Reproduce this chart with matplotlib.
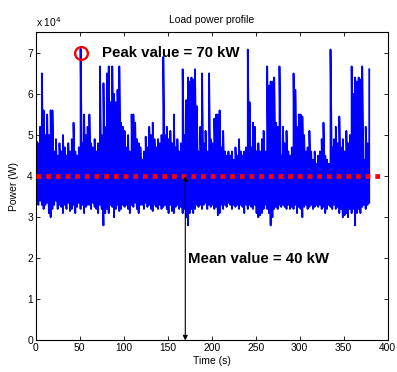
import numpy as np
import matplotlib
matplotlib.use("Agg")
import matplotlib.pyplot as plt
from matplotlib.ticker import FuncFormatter

# ---- data (power in units of 1e4 W) ----
time_s = list(range(1, 380, 2))  # 1, 3, ..., 379

power_high = [
    4.85, 4.8, 5.2, 6.5, 5.6, 5.0, 5.5, 5.0, 5.6, 5.6,
    4.6, 4.9, 4.5, 4.8, 4.6, 5.0, 4.7, 4.5, 4.8, 4.6,
    4.9, 5.3, 4.6, 4.5, 4.7, 7.1, 4.8, 5.5, 5.0, 5.2,
    5.5, 4.8, 4.7, 4.9, 4.6, 4.8, 6.67, 5.0, 6.26, 5.2,
    6.5, 6.67, 5.8, 6.67, 6.0, 5.8, 6.1, 6.67, 5.3, 5.2,
    5.1, 4.7, 5.0, 4.6, 5.5, 5.5, 5.3, 4.9, 4.8, 4.7,
    4.4, 4.6, 4.96, 4.7, 5.2, 5.0, 5.3, 4.9, 4.7, 4.9,
    4.8, 5.0, 6.9, 5.0, 5.2, 4.9, 5.1, 4.8, 5.5, 4.7,
    4.9, 4.6, 4.8, 6.6, 5.0, 5.85, 6.4, 6.3, 6.4, 6.35,
    6.6, 5.7, 4.6, 5.2, 6.5, 4.8, 5.1, 4.6, 6.5, 4.9,
    4.8, 5.4, 5.5, 5.5, 5.6, 4.7, 5.1, 4.6, 4.5, 4.6,
    4.5, 4.6, 4.4, 4.7, 4.5, 4.9, 4.6, 4.5, 4.6, 4.7,
    7.08, 5.8, 4.7, 5.3, 5.2, 4.6, 4.8, 4.6, 4.9, 5.1,
    4.6, 6.67, 6.2, 6.3, 6.3, 6.4, 5.3, 5.2, 6.67, 4.5,
    5.2, 4.8, 5.1, 4.6, 4.5, 4.7, 6.5, 6.1, 5.2, 5.5,
    5.5, 5.45, 5.0, 4.6, 4.7, 5.1, 4.6, 4.4, 4.6, 4.3,
    4.5, 4.6, 4.9, 5.3, 4.5, 4.4, 4.3, 7.08, 4.7, 4.9,
    5.2, 4.8, 5.45, 4.7, 4.9, 4.6, 5.1, 4.8, 5.0, 6.67,
    6.0, 6.4, 6.3, 6.4, 6.35, 6.67, 4.4, 5.2, 4.8, 6.6,
]

power_low = [
    3.35, 3.3, 3.4, 3.3, 3.2, 3.3, 3.35, 3.1, 3.0, 3.2,
    3.3, 3.4, 3.2, 3.3, 3.25, 3.1, 3.3, 3.2, 3.35, 3.15,
    3.2, 3.3, 3.1, 3.25, 3.35, 3.2, 3.3, 3.1, 3.25, 3.3,
    3.3, 3.2, 3.35, 3.25, 3.2, 3.1, 3.3, 3.2, 2.8, 3.1,
    3.2, 3.1, 3.3, 3.25, 3.0, 3.2, 3.3, 3.15, 3.2, 3.3,
    3.25, 3.3, 3.2, 3.1, 3.3, 3.25, 3.35, 3.2, 3.1, 3.3,
    3.3, 3.2, 3.35, 3.25, 3.3, 3.2, 3.15, 3.3, 3.25, 3.2,
    3.3, 3.2, 3.25, 3.3, 3.2, 3.1, 3.3, 3.15, 3.1, 3.25,
    3.3, 3.2, 3.25, 3.1, 3.2, 3.0, 2.8, 3.1, 3.2, 3.1,
    3.2, 3.3, 3.25, 3.3, 3.2, 3.3, 3.35, 3.2, 3.3, 3.25,
    3.3, 3.2, 3.25, 3.05, 3.1, 3.3, 3.2, 3.3, 3.25, 3.35,
    3.3, 3.2, 3.3, 3.25, 3.3, 3.2, 3.3, 3.25, 3.1, 3.3,
    3.2, 3.3, 3.25, 3.2, 3.3, 3.1, 3.0, 3.05, 3.1, 3.2,
    3.3, 3.2, 3.1, 2.8, 3.0, 3.2, 3.25, 3.2, 3.3, 3.25,
    3.3, 3.25, 3.2, 3.3, 3.2, 3.25, 3.2, 3.3, 3.1, 3.25,
    3.2, 3.0, 3.25, 3.3, 3.2, 3.25, 3.3, 3.2, 3.25, 3.3,
    3.25, 3.3, 3.2, 3.25, 3.1, 3.2, 3.3, 3.25, 3.2, 3.3,
    3.2, 3.25, 3.1, 3.2, 3.0, 3.05, 3.1, 3.0, 3.2, 3.1,
    3.2, 2.8, 3.1, 3.2, 3.1, 3.25, 3.3, 3.2, 3.3, 3.35,
]

mean_kw = 40
peak_kw = 70
mean_line_t = [0, 395]
arrow_t = 170
x_ticks = [0, 50, 100, 150, 200, 250, 300, 350, 400]
y_ticks = [0, 1, 2, 3, 4, 5, 6, 7]

# ---- build the dense trace (alternating low / high per sample) ----
t = np.array(time_s, dtype=float)
lo = np.array(power_low) * 1e4
hi = np.array(power_high) * 1e4
xs = np.repeat(t, 2)
ys = np.empty(2 * len(t))
ys[0::2] = lo
ys[1::2] = hi

plt.rcParams['font.family'] = ['Liberation Sans', 'DejaVu Sans']

fig = plt.figure(figsize=(3.97, 3.72), dpi=100)
ax = fig.add_axes([0.0899, 0.0847, 0.8867, 0.8285])

ax.plot(xs, ys, color='#0000ff', lw=1.3, zorder=2)

ax.plot(mean_line_t, [mean_kw * 1e3] * 2, color='#ff0000', lw=3.4,
        linestyle=(0, (1, 1.05)), solid_capstyle='butt',
        dash_capstyle='butt', zorder=3)

ipk = int(np.argmax(hi))
ax.plot([t[ipk]], [peak_kw * 1e3], 'o', mfc='none', mec='#ff0000',
        ms=9.2, mew=1.7, zorder=4)

ax.annotate('', xy=(arrow_t, mean_kw * 1e3), xytext=(arrow_t, 0),
            arrowprops=dict(arrowstyle='<|-|>', color='black', lw=0.8,
                            mutation_scale=7, shrinkA=0, shrinkB=0),
            zorder=5)

ax.text(75, 6.895e4, f'Peak value = {peak_kw} kW', fontsize=10.8,
        fontweight='bold', va='baseline', ha='left', color='black')
ax.text(173, 1.894e4, f'Mean value = {mean_kw} kW', fontsize=10.8,
        fontweight='bold', va='baseline', ha='left', color='black')

ax.set_xlim(0, 400)
ax.set_ylim(0, 7.5e4)
ax.set_xticks(x_ticks)
ax.set_yticks([v * 1e4 for v in y_ticks])
ax.yaxis.set_major_formatter(FuncFormatter(lambda v, p: f'{v / 1e4:g}'))
ax.tick_params(direction='in', length=3, width=0.6, labelsize=7.4,
               top=True, right=True, pad=2)
for s in ax.spines.values():
    s.set_linewidth(0.8)

ax.set_title('Load power profile', fontsize=7.5, pad=7)
ax.set_xlabel('Time (s)', fontsize=7.5, labelpad=2)
ax.set_ylabel('Power (W)', fontsize=7.5, labelpad=6)
ax.text(0.0, 1.012, r'x 10$^4$', transform=ax.transAxes, fontsize=7.4,
        ha='left', va='bottom')

fig.savefig('out.png', dpi=100)
